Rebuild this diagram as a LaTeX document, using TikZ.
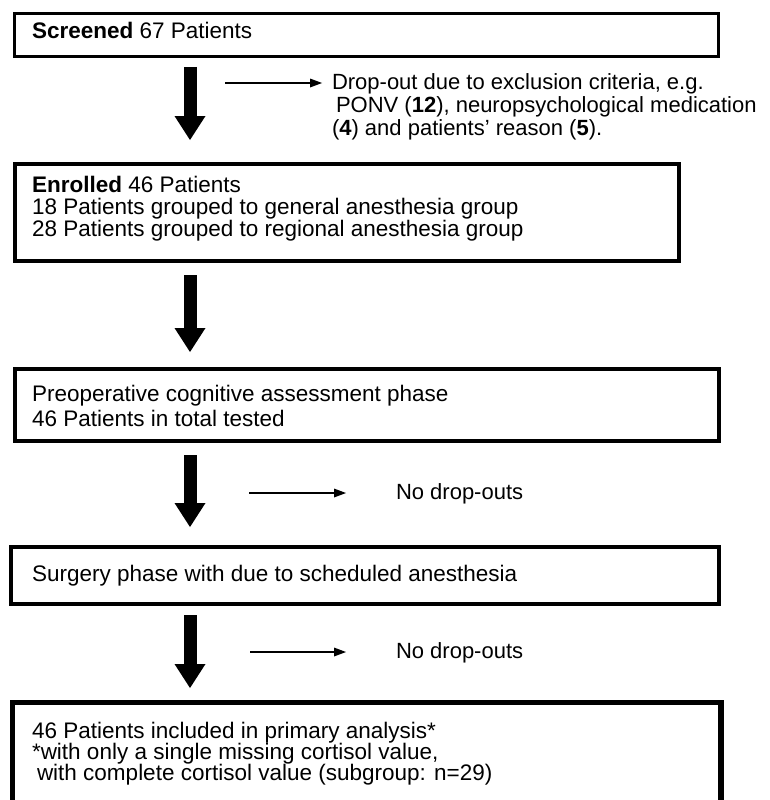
\documentclass[tikz,border=0pt]{standalone}
\usepackage{fontspec}
\setmainfont{Liberation Sans}
\usetikzlibrary{arrows.meta, positioning}

\tikzset{
    flowbox/.style={draw, line width=#1, rectangle, outer sep=0pt, inner sep=0pt, anchor=north west},
    boxtxt/.style={inner sep=0pt, outer sep=0pt, align=left, font=\fontsize{22.5}{#1}\selectfont},
    boxtxt/.default={22},
    droptxt/.style={inner sep=0pt, outer sep=0pt, align=left, font=\fontsize{22}{23}\selectfont},
    bigarrow/.style={line width=13pt, -{Triangle[width=31pt, length=24pt, line width=0pt]}},
    droparrow/.style={line width=1.2pt, -{Triangle[width=9pt, length=12pt, line width=0pt]}}
}

\begin{document}
\begin{tikzpicture}[x=1pt, y=-1pt]
    \useasboundingbox (0,0) rectangle (770,800);
    \coordinate (col) at (190,0);

    % the five boxes
    \node[flowbox=3pt, minimum width=704pt, minimum height=43pt] (screen) at (14.5,13.5) {};
    \node[flowbox=4pt, minimum width=664pt, minimum height=97pt] (enrol) at (15,164) {};
    \node[flowbox=4pt, minimum width=704pt, minimum height=72pt] (preop) at (15,369) {};
    \node[flowbox=3.5pt, minimum width=708pt, minimum height=57pt] (surgery) at (11,547) {};
    \node[flowbox=5.5pt, minimum width=708.5pt, minimum height=103pt] (analysis) at (12.5,702.5) {};

    % texts in the boxes
    \node[boxtxt, below right=8.5pt and 17.5pt of screen.north west] (screentxt) {\textbf{Screened} 67 Patients};
    \node[boxtxt, below right=12pt and 17pt of enrol.north west] (enroltxt) {\textbf{Enrolled} 46 Patients\\
        18 Patients grouped to general anesthesia group\\
        28 Patients grouped to regional anesthesia group};
    \node[boxtxt=25, below right=16pt and 17pt of preop.north west] (preoptxt) {Preoperative cognitive assessment phase\\
        46 Patients in total tested};
    \node[boxtxt, below right=18pt and 21pt of surgery.north west] (surgerytxt) {Surgery phase with due to scheduled anesthesia};
    \node[boxtxt=21, below right=19.5pt and 19.5pt of analysis.north west] (analysistxt) {46 Patients included in primary analysis*\\
        *with only a single missing cortisol value,\\
        \hspace{5pt}with complete cortisol value (subgroup: n=29)};

    % drop-outs
    \node[droptxt, anchor=north west] (drop1) at (332,74) {Drop-out due to exclusion criteria, e.g.\\
        \hspace{4pt}PONV (\textbf{12}), neuropsychological medication\\
        (\textbf{4}) and patients' reason (\textbf{5}).};
    \node[droptxt, anchor=base west] (drop2) at (396,499) {No drop-outs};
    \node[droptxt, anchor=base west] (drop3) at (396,658) {No drop-outs};

    \coordinate (d1) at (225,83);
    \coordinate (d2) at (249,493);
    \coordinate (d3) at (250,652);

    % main flow
    \draw[bigarrow, shorten <=10.5pt, shorten >=24pt] (screen.south -| col) -- (enrol.north -| col);
    \draw[bigarrow, shorten <=14pt, shorten >=17pt] (enrol.south -| col) -- (preop.north -| col);
    \draw[bigarrow, shorten <=14pt, shorten >=20pt] (preop.south -| col) -- (surgery.north -| col);
    \draw[bigarrow, shorten <=11pt, shorten >=14.5pt] (surgery.south -| col) -- (analysis.north -| col);

    \draw[droparrow, shorten >=10pt] (d1) -- (d1 -| drop1.west);
    \draw[droparrow, shorten >=50pt] (d2) -- (d2 -| drop2.west);
    \draw[droparrow, shorten >=50pt] (d3) -- (d3 -| drop3.west);
\end{tikzpicture}
\end{document}
